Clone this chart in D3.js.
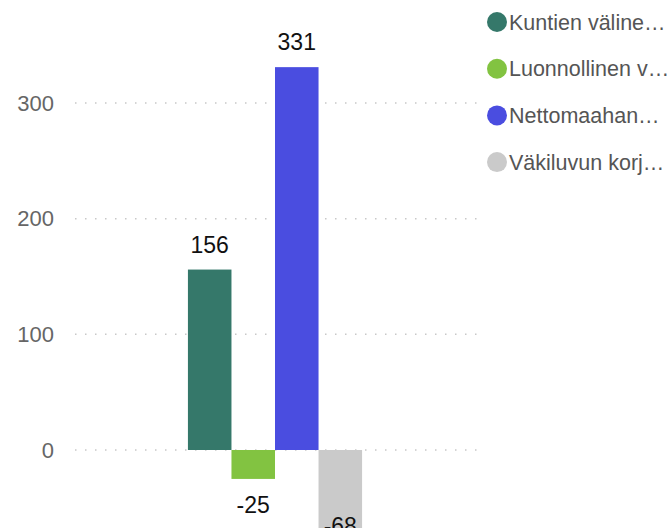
<!DOCTYPE html>
<html>
<head>
<meta charset="utf-8">
<script src="https://cdn.jsdelivr.net/npm/d3@7"></script>
<style>
  body { margin: 0; background: #fff; overflow: hidden; }
  svg { display: block; font-family: "Liberation Sans", Arial, sans-serif; }
</style>
</head>
<body>
<div id="chart"></div>
<script>
// data
const series = ["Kuntien välinen muutto", "Luonnollinen väestönlisäys", "Nettomaahanmuutto", "Väkiluvun korjaus"];
const values = [156, -25, 331, -68];
const colors = ["#35786A", "#82C341", "#4A4DE0", "#CACACA"];
const yTicks = [0, 100, 200, 300];
const group = [""];

const w = 670;
const h = 528;

const svg = d3.select("#chart").
append("svg").
attr("width", w).
attr("height", h);

// one group of four columns in the middle of the plot
const x0 = d3.scaleBand().
domain(group).
range([73, 477]).
paddingInner(0).
paddingOuter(0.66);

const x1 = d3.scaleBand().
domain(series).
range([0, x0.bandwidth()]).
padding(0);

const y = d3.scaleLinear().
domain([0, 300]).
range([450, 103]);

// y axis, no line, just labels + dotted gridlines
const yAxis = d3.axisLeft(y).
tickValues(yTicks).
tickSize(0).
tickPadding(21);

const gy = svg.append("g").
attr("transform", "translate(75,0)").
call(yAxis);
gy.select(".domain").remove();
gy.selectAll("text").
attr("font-size", 22).
attr("fill", "#666").
attr("font-family", "Liberation Sans, Arial, sans-serif");

svg.append("g").
selectAll("line").
data(yTicks).
enter().
append("line").
attr("x1", 75).
attr("x2", 478).
attr("y1", d => y(d)).
attr("y2", d => y(d)).
attr("stroke", "#c8c8c8").
attr("stroke-width", 1.5).
attr("stroke-dasharray", "1.5,8.5");

// bars
const bars = svg.append("g").
attr("transform", "translate(" + x0(group[0]) + ",0)");

bars.selectAll("rect").
data(values).
enter().
append("rect").
attr("x", (d, i) => x1(series[i])).
attr("width", x1.bandwidth()).
attr("y", d => y(Math.max(0, d))).
attr("height", d => Math.abs(y(d) - y(0))).
attr("fill", (d, i) => colors[i]);

// value labels (negative ones stay near the bottom edge, like the original)
bars.selectAll("text").
data(values).
enter().
append("text").
attr("x", (d, i) => x1(series[i]) + x1.bandwidth() / 2).
attr("y", d => d >= 0 ? y(d) - 17 : Math.min(y(d) + 34, 534)).
attr("text-anchor", "middle").
attr("font-size", 23).
attr("fill", "#111").
text(d => d);

// legend
const legend = svg.append("g").
selectAll("g").
data(series).
enter().
append("g").
attr("transform", (d, i) => "translate(497," + (22 + i * 46.7) + ")");

legend.append("circle").
attr("r", 10).
attr("fill", (d, i) => colors[i]);

legend.append("text").
attr("x", 12).
attr("dy", "0.36em").
attr("font-size", 21.5).
attr("fill", "#555").
text(d => d).
each(function (d) {
  // cut the name with an ellipsis so it fits the right edge
  const t = d3.select(this);
  const maxW = 162;
  if (this.getComputedTextLength() <= maxW) return;
  let s = d;
  while (s.length > 1) {
    s = s.slice(0, -1);
    t.text(s + "…");
    if (this.getComputedTextLength() <= maxW) break;
  }
});
</script>
</body>
</html>
